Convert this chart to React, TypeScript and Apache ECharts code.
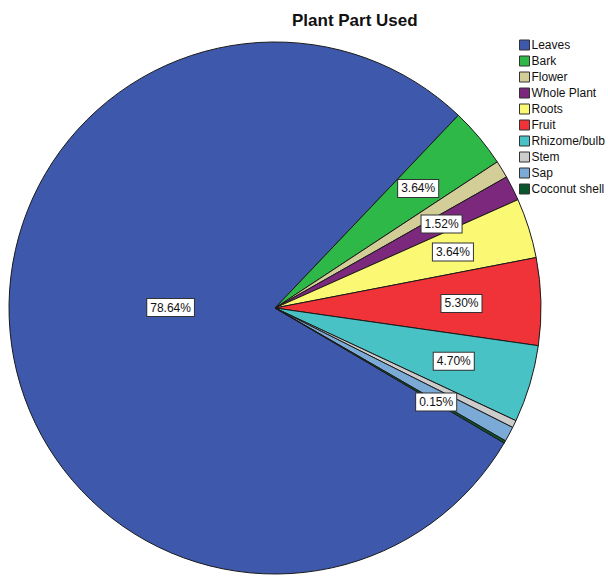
import React, { useEffect, useRef } from "react";
import * as echarts from "echarts";

// Plant part used, share of all records (%)
const parts = [
  "Leaves",
  "Bark",
  "Flower",
  "Whole Plant",
  "Roots",
  "Fruit",
  "Rhizome/bulb",
  "Stem",
  "Sap",
  "Coconut shell",
];
const shares = [78.64, 3.64, 1.06, 1.52, 3.64, 5.3, 4.7, 0.45, 0.91, 0.15];
const palette = [
  "#3E58AC",
  "#2EB848",
  "#D3CE97",
  "#7C287D",
  "#FBF873",
  "#EF3338",
  "#48C2C5",
  "#CCCCCC",
  "#7AAAD5",
  "#0A562C",
];
// slices whose percentage is not printed
const unlabelled = ["Flower", "Stem", "Sap"];
// slice whose label sits nearer the centre
const innerLabelled = ["Leaves"];

const FONT = "'Liberation Sans', Arial, Helvetica, sans-serif";
const CX = 275;
const CY = 308;
const R = 266;

const boxLabel = {
  position: "inside" as const,
  formatter: (p: any) => `${Number(p.value).toFixed(2)}%`,
  fontFamily: FONT,
  fontSize: 12,
  color: "#111",
  backgroundColor: "#ffffff",
  borderColor: "#333",
  borderWidth: 1,
  padding: [3, 3, 2, 3],
};

export default function App() {
  const ref = useRef<HTMLDivElement>(null);

  useEffect(() => {
    if (!ref.current) return;
    const chart = echarts.init(ref.current, undefined, { renderer: "svg" });

    const mainData = parts.map((name, i) => ({
      name,
      value: shares[i],
      itemStyle: { color: palette[i] },
    }));

    const ringData = parts.map((name, i) => ({
      name,
      value: shares[i],
      label: {
        show: !unlabelled.includes(name) && !innerLabelled.includes(name),
      },
    }));

    const coreData = parts.map((name, i) => ({
      name,
      value: shares[i],
      label: { show: innerLabelled.includes(name) },
    }));

    const overlay = {
      type: "pie" as const,
      center: [CX, CY],
      startAngle: 329.5,
      clockwise: true,
      silent: true,
      avoidLabelOverlap: false,
      itemStyle: { color: "transparent", borderWidth: 0 },
      labelLine: { show: false },
      emphasis: { disabled: true },
      label: boxLabel,
    };

    chart.setOption({
      animation: false,
      backgroundColor: "#ffffff",
      title: {
        text: "Plant Part Used",
        left: 292,
        top: 12,
        padding: 0,
        textStyle: {
          fontFamily: FONT,
          fontSize: 17,
          fontWeight: "bold",
          color: "#111",
        },
      },
      legend: {
        orient: "vertical",
        left: 519,
        top: 39,
        padding: 0,
        itemWidth: 10,
        itemHeight: 10,
        itemGap: 4,
        icon: "rect",
        data: parts,
        itemStyle: { borderColor: "#333", borderWidth: 1 },
        textStyle: {
          fontFamily: FONT,
          fontSize: 12,
          color: "#111",
          padding: [0, 0, 0, -3],
        },
        selectedMode: false,
      },
      series: [
        {
          type: "pie",
          center: [CX, CY],
          radius: [0, R],
          startAngle: 329.5,
          clockwise: true,
          avoidLabelOverlap: false,
          itemStyle: { borderColor: "#1a1a1a", borderWidth: 1 },
          label: { show: false },
          labelLine: { show: false },
          emphasis: { disabled: true },
          data: mainData,
        },
        { ...overlay, radius: [R * 0.38, R], data: ringData },
        {
          ...overlay,
          radius: [0, R * 0.77],
          data: coreData,
          label: { ...boxLabel, offset: [0, -15] },
        },
      ],
    });

    return () => chart.dispose();
  }, []);

  return (
    <div
      ref={ref}
      style={{ position: "fixed", left: 0, top: 0, width: 608, height: 580 }}
    />
  );
}
